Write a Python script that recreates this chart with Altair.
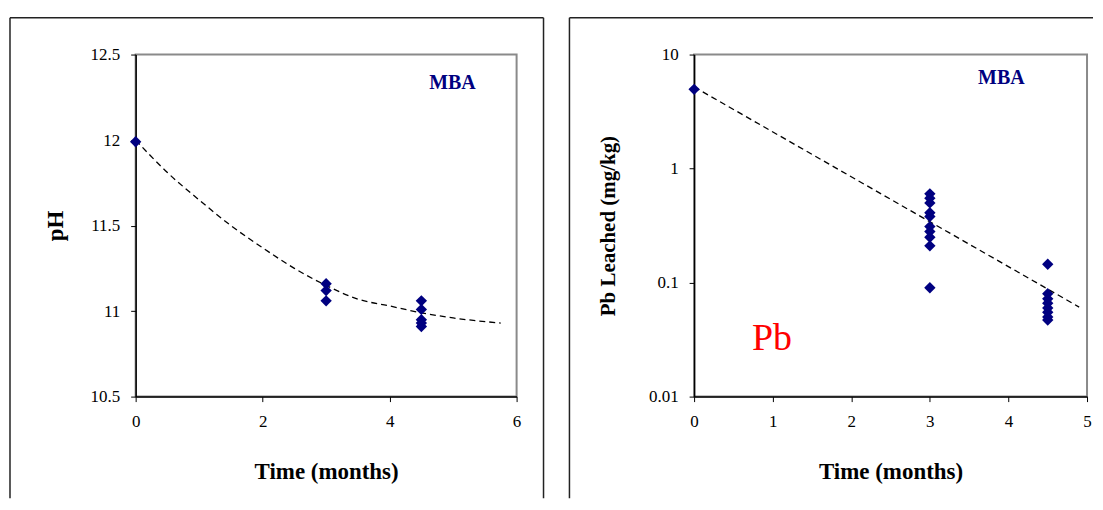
import altair as alt
import pandas as pd

# ---------------- data ----------------
# Left panel: pH vs time (MBA)
ph_time = [0, 3, 3, 3, 4.5, 4.5, 4.5, 4.5, 4.5]
ph_values = [11.99, 11.16, 11.12, 11.06, 11.06, 11.01, 10.95, 10.93, 10.91]
# dashed trend curve
ph_trend_time = [0, 0.5, 1.0, 1.5, 2.0, 2.5, 3.0, 3.5, 4.0, 4.5, 5.0, 5.75]
ph_trend_values = [12.0, 11.81, 11.65, 11.50, 11.37, 11.25, 11.15, 11.07, 11.03, 10.99, 10.96, 10.93]

# Right panel: Pb leached vs time (log scale)
pb_time = [0] + [3] * 10 + [4.5] * 8
pb_values = [4.95,
             0.60, 0.55, 0.50, 0.41, 0.38, 0.31, 0.28, 0.25, 0.21, 0.09,
             0.145, 0.080, 0.072, 0.066, 0.060, 0.055, 0.050, 0.047]
pb_trend_time = [0, 4.9]
pb_trend_values = [5.2, 0.061]

# axis ticks
ph_ticks = [10.5, 11, 11.5, 12, 12.5]
ph_time_ticks = [0, 2, 4, 6]
pb_ticks = [0.01, 0.1, 1, 10]
pb_time_ticks = [0, 1, 2, 3, 4, 5]

# annotations (placed in data coordinates)
ph_labels = pd.DataFrame({"t": [4.99], "v": [12.296], "txt": ["MBA"]})
pb_mba = pd.DataFrame({"t": [3.91], "v": [5.57], "txt": ["MBA"]})
pb_el = pd.DataFrame({"t": [0.99], "v": [0.0258], "txt": ["Pb"]})

SERIF = "Liberation Serif"
NAVY = "#000080"
FRAME = "#222222"
LABEL_SIZE = 17

ph_df = pd.DataFrame({"t": ph_time, "v": ph_values})
ph_tr = pd.DataFrame({"t": ph_trend_time, "v": ph_trend_values})
pb_df = pd.DataFrame({"t": pb_time, "v": pb_values})
pb_tr = pd.DataFrame({"t": pb_trend_time, "v": pb_trend_values})
one = alt.Data(values=[{"a": 1}])

common_axis = dict(
    grid=False, labelFont=SERIF, labelFontSize=LABEL_SIZE, labelColor="black",
    titleFont=SERIF, titleFontWeight="bold", titleColor="black",
    tickColor="black", tickSize=5, tickWidth=1,
    domainColor="black", domainWidth=1.5, labelFlush=False,
)


def xaxis(values):
    return alt.Axis(values=values, format="d", title="Time (months)",
                    titleFontSize=23, titleY=82, titleBaseline="alphabetic",
                    labelPadding=12, **common_axis)


def frame(x1, x2, top, bottom, right_side=True):
    parts = [
        alt.Chart(one).mark_rule(color=FRAME, strokeWidth=1.5).encode(
            x=alt.value(x1), y=alt.value(top), y2=alt.value(bottom)),
        alt.Chart(one).mark_rule(color=FRAME, strokeWidth=1.5).encode(
            x=alt.value(x1), x2=alt.value(x2), y=alt.value(top)),
    ]
    if right_side:
        parts.append(alt.Chart(one).mark_rule(color=FRAME, strokeWidth=1.5).encode(
            x=alt.value(x2), y=alt.value(top), y2=alt.value(bottom)))
    return parts


# ---------------- left panel ----------------
xs_l = alt.Scale(domain=[0, 6], nice=False)
ys_l = alt.Scale(domain=[10.5, 12.5], nice=False, zero=False)

left_trend = alt.Chart(ph_tr).mark_line(
    color="black", strokeDash=[6, 4], strokeWidth=1.3, interpolate="monotone"
).encode(
    x=alt.X("t:Q", scale=xs_l, axis=xaxis(ph_time_ticks)),
    y=alt.Y("v:Q", scale=ys_l,
            axis=alt.Axis(values=ph_ticks, format="~g", title="pH",
                          titleFontSize=23, titleX=-73, titleBaseline="alphabetic",
                          labelPadding=11, **common_axis)),
)
left_pts = alt.Chart(ph_df).mark_point(
    shape="diamond", filled=True, size=130, color=NAVY, opacity=1
).encode(x=alt.X("t:Q", scale=xs_l), y=alt.Y("v:Q", scale=ys_l))
left_txt = alt.Chart(ph_labels).mark_text(
    font=SERIF, fontWeight="bold", fontSize=20, color=NAVY, baseline="alphabetic"
).encode(x=alt.X("t:Q", scale=xs_l), y=alt.Y("v:Q", scale=ys_l), text="txt:N")

left = alt.layer(
    *frame(-126, 409, -37, 445),
    left_trend, left_pts, left_txt,
).properties(width=382, height=343)

# ---------------- right panel ----------------
xs_r = alt.Scale(domain=[0, 5], nice=False)
ys_r = alt.Scale(type="log", domain=[0.01, 10], nice=False)

right_trend = alt.Chart(pb_tr).mark_line(
    color="black", strokeDash=[6, 4], strokeWidth=1.3
).encode(
    x=alt.X("t:Q", scale=xs_r, axis=xaxis(pb_time_ticks)),
    y=alt.Y("v:Q", scale=ys_r,
            axis=alt.Axis(values=pb_ticks, format=".2~f", title="Pb Leached (mg/kg)",
                          titleFontSize=21, titleX=-80, titleBaseline="alphabetic",
                          labelPadding=11, **common_axis)),
)
right_pts = alt.Chart(pb_df).mark_point(
    shape="diamond", filled=True, size=130, color=NAVY, opacity=1
).encode(x=alt.X("t:Q", scale=xs_r), y=alt.Y("v:Q", scale=ys_r))
right_mba = alt.Chart(pb_mba).mark_text(
    font=SERIF, fontWeight="bold", fontSize=20, color=NAVY, baseline="alphabetic"
).encode(x=alt.X("t:Q", scale=xs_r), y=alt.Y("v:Q", scale=ys_r), text="txt:N")
right_pb = alt.Chart(pb_el).mark_text(
    font=SERIF, fontSize=38, color="#ff0000", baseline="alphabetic"
).encode(x=alt.X("t:Q", scale=xs_r), y=alt.Y("v:Q", scale=ys_r), text="txt:N")

right = alt.layer(
    *frame(-125, 400, -37, 445, right_side=False),
    right_trend, right_pts, right_mba, right_pb,
).properties(width=394, height=343)

chart = alt.hconcat(left, right, spacing=22).properties(
    padding={"left": 0, "top": 7, "right": 0, "bottom": 0},
    background="white",
).configure_view(
    stroke="#8a8a8a", strokeWidth=2
)

chart.save("out.html", embed_options={"renderer": "svg", "actions": False})
